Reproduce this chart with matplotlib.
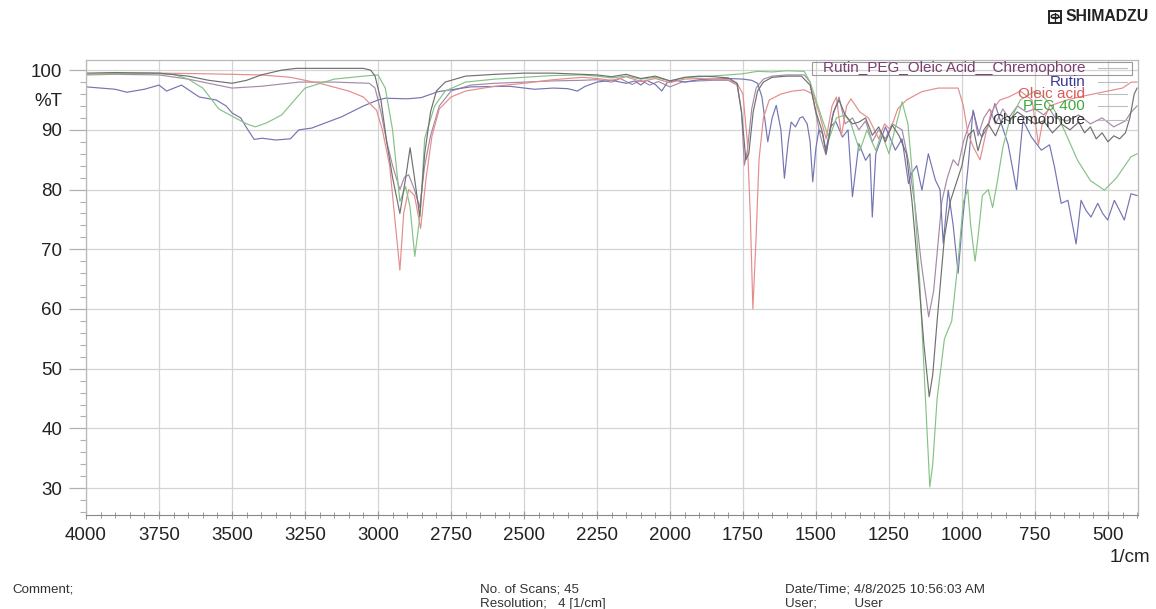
import matplotlib
matplotlib.use("Agg")
import matplotlib.pyplot as plt
from matplotlib.patches import Rectangle, Circle
from matplotlib.lines import Line2D
from matplotlib.ticker import MultipleLocator

plt.rcParams['font.family'] = ['Liberation Sans', 'DejaVu Sans']

# ---- spectra (wavenumber 1/cm, %T) ----
rutin_wn = [4000, 3950, 3900, 3860, 3800, 3750, 3724, 3673, 3612, 3554, 3520, 3499, 3470, 3452, 3424,
            3397, 3350, 3300, 3271, 3227, 3124, 3050, 3000, 2975, 2900, 2852, 2794, 2682, 2550, 2464,
            2400, 2350, 2317, 2290, 2250, 2200, 2150, 2120, 2100, 2080, 2050, 2028, 2010, 1980, 1950,
            1900, 1850, 1800, 1750, 1720, 1700, 1685, 1665, 1650, 1636, 1620, 1608, 1595, 1585, 1570,
            1555, 1545, 1530, 1520, 1511, 1500, 1490, 1477, 1466, 1450, 1432, 1409, 1390, 1375, 1353,
            1330, 1315, 1307, 1295, 1262, 1228, 1205, 1183, 1173, 1155, 1137, 1115, 1091, 1075, 1064,
            1047, 1030, 1013, 1000, 979, 962, 945, 932, 911, 887, 865, 842, 813, 791, 762,
            728, 700, 683, 660, 637, 609, 592, 575, 558, 535, 518, 501, 478, 460, 444,
            421, 400]
rutin_t = [97.2, 97.0, 96.8, 96.3, 96.8, 97.5, 96.5, 97.5, 95.5, 95.0, 94.0, 92.8, 92.0, 90.5, 88.4,
           88.6, 88.3, 88.5, 90.0, 90.3, 92.2, 94.0, 95.0, 95.3, 95.2, 95.4, 96.4, 97.2, 97.3, 96.8,
           97.0, 96.9, 96.5, 97.3, 98.0, 98.3, 97.8, 98.2, 97.5, 98.3, 97.6, 96.5, 97.9, 98.3, 98.0,
           98.4, 98.5, 98.6, 98.5, 98.3, 97.8, 95.5, 88.0, 92.0, 94.1, 90.0, 81.9, 88.0, 91.3, 90.5,
           92.0, 92.2, 91.0, 88.0, 81.3, 87.0, 90.0, 89.4, 86.6, 90.5, 91.4, 88.8, 90.0, 78.8, 87.7,
           84.9, 86.0, 75.4, 86.0, 90.5, 86.6, 88.5, 81.0, 82.7, 84.0, 79.9, 86.0, 81.6, 80.0, 71.0,
           79.9, 74.0, 66.0, 73.7, 83.8, 93.3, 90.0, 88.8, 90.5, 94.4, 91.0, 87.6, 80.0, 91.6, 88.8,
           86.6, 87.5, 83.8, 77.7, 78.2, 70.9, 78.2, 76.5, 75.4, 77.7, 76.0, 74.9, 78.2, 76.5, 74.9,
           79.3, 79.0]

oleic_wn = [4000, 3900, 3750, 3600, 3500, 3400, 3300, 3200, 3100, 3050, 3020, 3005, 2985, 2960, 2940,
            2925, 2912, 2895, 2875, 2854, 2835, 2815, 2790, 2750, 2700, 2600, 2500, 2400, 2300, 2250,
            2200, 2150, 2100, 2050, 2000, 1950, 1900, 1850, 1800, 1770, 1750, 1735, 1725, 1716, 1705,
            1695, 1680, 1660, 1620, 1580, 1540, 1510, 1490, 1465, 1445, 1430, 1413, 1395, 1380, 1350,
            1320, 1285, 1265, 1245, 1220, 1190, 1160, 1137, 1100, 1080, 1040, 1013, 995, 980, 960,
            938, 920, 900, 870, 840, 800, 760, 745, 738, 725, 700, 640, 600, 550, 500,
            450, 420, 400]
oleic_t = [99.3, 99.4, 99.5, 99.4, 99.3, 99.2, 98.8, 97.8, 96.5, 95.5, 94.0, 93.3, 90.0, 84.0, 74.0,
           66.5, 76.0, 80.0, 79.0, 73.5, 82.0, 89.0, 93.5, 95.5, 96.5, 97.3, 97.8, 98.4, 98.8, 98.6,
           98.3, 98.9, 98.1, 98.6, 97.9, 98.5, 98.6, 98.5, 98.4, 97.8, 96.0, 88.0, 76.0, 60.0, 72.0,
           85.0, 92.0, 95.0, 96.0, 96.5, 96.7, 96.0, 93.0, 88.5, 94.0, 95.5, 89.0, 94.0, 95.2, 93.0,
           92.0, 88.5, 91.0, 90.0, 93.5, 95.0, 95.8, 96.4, 96.8, 97.0, 97.0, 97.0, 94.0, 89.5, 87.0,
           85.0, 89.0, 93.0, 95.0, 95.5, 96.5, 95.0, 90.0, 87.5, 91.0, 94.0, 95.0, 95.5, 96.0, 96.5,
           97.0, 98.0, 98.0]

peg_wn = [4000, 3900, 3800, 3700, 3650, 3600, 3545, 3500, 3450, 3420, 3380, 3330, 3250, 3150, 3050,
          3000, 2975, 2950, 2925, 2905, 2890, 2874, 2855, 2840, 2806, 2770, 2700, 2600, 2500, 2400,
          2300, 2250, 2200, 2150, 2100, 2050, 2000, 1950, 1900, 1800, 1750, 1700, 1650, 1600, 1540,
          1520, 1500, 1480, 1455, 1430, 1400, 1380, 1350, 1325, 1295, 1275, 1250, 1230, 1205, 1185,
          1165, 1145, 1125, 1110, 1100, 1085, 1060, 1035, 1013, 995, 980, 970, 955, 945, 930,
          910, 895, 880, 860, 840, 800, 750, 720, 683, 650, 604, 560, 512, 470, 421,
          400]
peg_t = [99.3, 99.4, 99.5, 99.3, 98.5, 97.0, 93.5, 92.3, 91.0, 90.5, 91.2, 92.5, 97.0, 98.5, 99.0,
         99.2, 97.0, 90.0, 78.0, 80.5, 77.0, 68.8, 76.0, 88.6, 94.0, 96.5, 98.0, 98.5, 98.8, 99.1,
         99.2, 99.0, 98.7, 99.0, 98.5, 98.8, 98.2, 98.7, 98.9, 99.2, 99.4, 99.8, 99.7, 99.9, 99.8,
         98.0, 95.0, 92.0, 88.5, 92.0, 92.5, 91.0, 86.5, 90.0, 86.5, 89.5, 86.0, 90.0, 94.7, 91.0,
         80.0, 65.0, 45.0, 30.2, 34.0, 45.0, 55.0, 58.0, 68.0, 78.0, 80.0, 74.0, 68.0, 72.0, 79.0,
         80.0, 77.0, 81.0, 87.0, 91.0, 95.0, 96.5, 95.5, 93.3, 90.0, 84.9, 81.5, 79.9, 82.0, 85.5,
         86.0]

chrem_wn = [4000, 3900, 3750, 3650, 3580, 3500, 3450, 3400, 3330, 3280, 3150, 3050, 3025, 3010, 2990,
            2970, 2950, 2925, 2905, 2890, 2875, 2857, 2840, 2820, 2800, 2770, 2700, 2600, 2500, 2400,
            2300, 2250, 2200, 2150, 2100, 2050, 2000, 1950, 1900, 1850, 1800, 1770, 1755, 1740, 1730,
            1715, 1700, 1680, 1650, 1600, 1550, 1520, 1500, 1480, 1465, 1440, 1421, 1400, 1375, 1353,
            1330, 1307, 1285, 1262, 1239, 1215, 1190, 1171, 1150, 1130, 1112, 1100, 1085, 1060, 1040,
            1020, 1000, 980, 960, 945, 925, 910, 885, 860, 840, 810, 780, 750, 720, 690,
            660, 630, 600, 580, 560, 540, 520, 500, 480, 460, 440, 425, 410, 400]
chrem_t = [99.5, 99.6, 99.5, 99.0, 98.3, 97.8, 98.3, 99.2, 100.0, 100.3, 100.3, 100.3, 100.0, 99.0, 95.0,
           88.0, 82.0, 76.0, 82.0, 87.0, 82.0, 75.5, 86.0, 93.0, 96.5, 98.0, 99.0, 99.3, 99.5, 99.5,
           99.3, 99.2, 98.9, 99.3, 98.6, 99.0, 98.2, 98.8, 99.0, 98.9, 98.7, 97.8, 93.0, 85.0, 86.0,
           93.0, 96.5, 98.0, 98.8, 99.0, 99.0, 97.5, 93.0, 90.0, 86.0, 93.0, 95.0, 92.5, 91.0, 91.3,
           92.0, 89.1, 90.5, 88.0, 90.8, 89.0, 86.0, 78.0, 66.0, 54.0, 45.3, 49.0, 58.0, 72.0, 78.0,
           81.0, 84.0, 89.0, 90.0, 86.5, 90.0, 91.0, 89.0, 92.0, 91.5, 93.0, 92.0, 91.0, 91.5, 89.5,
           91.0, 90.0, 91.3, 89.5, 90.5, 88.5, 89.5, 88.0, 89.0, 88.5, 89.5, 92.0, 96.0, 97.0]

mix_wn = [4000, 3900, 3750, 3650, 3550, 3500, 3400, 3270, 3150, 3030, 3010, 2990, 2970, 2950, 2925,
          2910, 2895, 2875, 2857, 2840, 2820, 2790, 2750, 2682, 2600, 2500, 2400, 2300, 2250, 2200,
          2170, 2130, 2100, 2070, 2040, 2000, 1960, 1900, 1850, 1800, 1770, 1755, 1745, 1735, 1720,
          1705, 1680, 1650, 1600, 1540, 1520, 1505, 1485, 1466, 1445, 1421, 1400, 1375, 1353, 1330,
          1307, 1285, 1262, 1239, 1205, 1180, 1160, 1140, 1114, 1097, 1080, 1069, 1050, 1030, 1013,
          995, 975, 960, 945, 925, 905, 885, 860, 840, 810, 780, 750, 720, 700, 680,
          640, 600, 560, 520, 480, 440, 420, 400]
mix_t = [99.2, 99.3, 99.2, 98.5, 97.5, 97.0, 97.3, 98.0, 98.0, 97.8, 97.0, 93.0, 88.0, 84.0, 80.0,
         82.0, 82.5, 80.0, 77.0, 84.0, 89.0, 94.0, 96.5, 97.5, 97.8, 98.0, 98.2, 98.3, 98.4, 98.0,
         98.6, 97.6, 98.3, 97.5, 98.1, 97.2, 98.0, 98.2, 98.3, 98.3, 97.5, 93.0, 84.1, 86.5, 93.5,
         97.0, 98.5, 99.0, 99.2, 99.2, 98.0, 94.0, 89.0, 85.8, 92.0, 95.5, 91.0, 92.0, 90.0, 91.5,
         88.0, 90.0, 88.5, 91.0, 90.0, 84.0, 77.0, 68.0, 58.7, 63.0, 72.0, 78.0, 82.0, 85.0, 84.0,
         88.0, 91.0, 93.0, 89.0, 92.0, 93.5, 91.0, 93.5, 92.0, 94.0, 93.0, 93.5, 92.5, 93.5, 92.0,
         91.5, 92.5, 91.0, 92.0, 90.5, 91.5, 93.0, 94.0]

series_names = ["Rutin_PEG_Oleic Acid__Chremophore", "Rutin", "Oleic acid", "PEG 400", "Chremophore"]
line_colors = ["#a58aa8", "#7474b4", "#e58c8c", "#86c286", "#707070"]
label_colors = ["#7a3f70", "#3a3a96", "#d85a5a", "#3fa83f", "#333333"]

x_ticks = [4000, 3750, 3500, 3250, 3000, 2750, 2500, 2250, 2000, 1750, 1500, 1250, 1000, 750, 500]
y_ticks = [30, 40, 50, 60, 70, 80, 90, 100]

# ---- figure ----
W, H = 1156, 609
fig = plt.figure(figsize=(W / 100, H / 100), dpi=100)
ax = fig.add_axes([86 / W, 1 - 515 / H, (1138 - 86) / W, (515 - 60) / H])

data = [(mix_wn, mix_t), (rutin_wn, rutin_t), (oleic_wn, oleic_t), (peg_wn, peg_t), (chrem_wn, chrem_t)]
for (wn, t), c in zip(data, line_colors):
    ax.plot(wn, t, color=c, lw=0.85)

ax.set_xlim(4000, 397)
ax.set_ylim(25.5, 101.7)
ax.set_xticks(x_ticks)
ax.set_yticks(y_ticks)
ax.xaxis.set_minor_locator(MultipleLocator(50))
ax.yaxis.set_minor_locator(MultipleLocator(2))
ax.grid(True, which='major', color='#d4d4d4', lw=0.9)
ax.set_axisbelow(True)

for side in ['top', 'right', 'left']:
    ax.spines[side].set_color('#b8b8b8')
    ax.spines[side].set_linewidth(0.9)
ax.spines['bottom'].set_color('#888888')

ax.tick_params(axis='y', which='major', length=12, width=0.9, color='#b0b0b0',
               labelsize=13.5, labelcolor='#222222', pad=5)
ax.tick_params(axis='y', which='minor', length=4.5, width=0.8, color='#b0b0b0')
ax.tick_params(axis='x', which='major', direction='inout', length=6, width=0.8, color='#999999',
               labelsize=13.5, labelcolor='#222222', pad=6)
ax.tick_params(axis='x', which='minor', direction='inout', length=4, width=0.7, color='#999999')

ax.text(-0.0228, 94.7, "%T", transform=ax.get_yaxis_transform(), ha='right', va='center',
        fontsize=13.5, color='#222222')
fig.text(1150 / W, 1 - 558 / H, "1/cm", ha='right', va='center', fontsize=13.5, color='#222222')

# ---- legend (text right aligned, sample line on the right) ----
leg_y = [0.9824, 0.9523, 0.9259, 0.8989, 0.8681]
for name, lc, tc, yy in zip(series_names, line_colors, label_colors, leg_y):
    ax.text(0.9497, yy, name, transform=ax.transAxes, ha='right', va='center',
            fontsize=11, color=tc)
    ax.add_line(Line2D([0.962, 0.9895], [yy, yy], transform=ax.transAxes, color='#bdbdbd', lw=0.8))
ax.add_patch(Rectangle((0.690, 0.968), 0.3043, 0.0276, transform=ax.transAxes,
                       fill=False, ec='#9a9a9a', lw=0.8))

# ---- header logo ----
fig.add_artist(Rectangle((1049 / W, 1 - 22.5 / H), 12 / W, 12 / H, fill=False, ec='#222222', lw=1.4))
fig.add_artist(Circle((1055 / W, 1 - 16.5 / H), 3.8 / W, fill=False, ec='#222222', lw=1.0))
fig.add_artist(Line2D([1051 / W, 1059 / W], [1 - 16.5 / H, 1 - 16.5 / H], color='#222222', lw=0.9))
fig.add_artist(Line2D([1055 / W, 1055 / W], [1 - 12.5 / H, 1 - 20.5 / H], color='#222222', lw=0.9))
fig.text(1065 / W, 1 - 16.5 / H, "SHIMADZU", ha='left', va='center', fontsize=11.3,
         fontweight='bold', color='#222222')

# ---- footer ----
foot = dict(fontsize=9.6, color='#333333', va='center', ha='left')
fig.text(12 / W, 1 - 589 / H, "Comment;", **foot)
fig.text(480 / W, 1 - 589 / H, "No. of Scans; 45", **foot)
fig.text(480 / W, 1 - 604 / H, "Resolution;   4 [1/cm]", **foot)
fig.text(785 / W, 1 - 589 / H, "Date/Time; 4/8/2025 10:56:03 AM", **foot)
fig.text(785 / W, 1 - 604 / H, "User;          User", **foot)

fig.savefig("out.png", dpi=100)
